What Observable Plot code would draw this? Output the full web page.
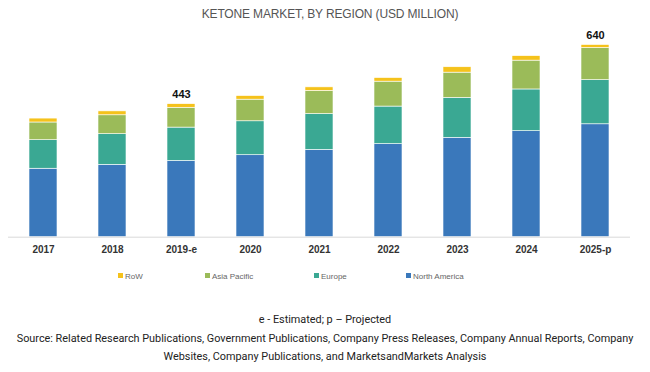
<!DOCTYPE html>
<html>
<head>
<meta charset="utf-8">
<script src="https://cdn.jsdelivr.net/npm/d3@7"></script>
<script src="https://cdn.jsdelivr.net/npm/@observablehq/plot@0.6"></script>
<style>
  html, body { margin: 0; padding: 0; background: #fff; }
  #wrap { position: relative; width: 650px; height: 372px; font-family: "Liberation Sans", Arial, sans-serif; }
  #title { position: absolute; left: 5px; top: 0; width: 650px; height: 28px; line-height: 28px; text-align: center; font-size: 12px; color: #555; letter-spacing: -0.15px; }
  #chart { position: absolute; left: 0; top: 28px; }
  .leg { position: absolute; top: 271px; font-size: 8px; color: #666; line-height: 12px; white-space: nowrap; }
  .leg i { display: inline-block; width: 5px; height: 5px; margin-right: 2px; vertical-align: 1px; }
  .foot { position: absolute; left: 0; width: 650px; text-align: center; font-family: Roboto, sans-serif; font-size: 10.85px; color: #222; white-space: nowrap; }
</style>
</head>
<body>
<div id="wrap">
  <div id="title">KETONE MARKET, BY REGION (USD MILLION)</div>
  <div id="chart"></div>
  <div id="legend"></div>
  <div class="foot" style="top:313px">e - Estimated; p – Projected</div>
  <div class="foot" style="top:332px">Source: Related Research Publications, Government Publications, Company Press Releases, Company Annual Reports, Company</div>
  <div class="foot" style="top:350px">Websites, Company Publications, and MarketsandMarkets Analysis</div>
</div>
<script>
const years = ["2017", "2018", "2019-e", "2020", "2021", "2022", "2023", "2024", "2025-p"];
const regions = ["North America", "Europe", "Asia Pacific", "RoW"];
const colors = ["#3a78bb", "#3aa893", "#9bbb59", "#f5c21b"];
const northAmerica = [228, 241, 254, 273, 291, 310, 331, 353, 376];
const europe       = [95, 102, 111, 113, 119, 125, 133, 139, 147];
const asiaPacific  = [59, 63, 66, 72, 77, 83, 84, 96, 107];
const row          = [13, 13, 12, 12, 12, 12, 18, 15, 10];
const labelledYears = ["2019-e", "2025-p"];

const series = [northAmerica, europe, asiaPacific, row];
const data = [];
years.forEach((y, i) => regions.forEach((r, j) => data.push({year: y, region: r, value: series[j][i]})));
const totals = years.map((y, i) => ({year: y, total: series.reduce((s, a) => s + a[i], 0)}))
  .filter(d => labelledYears.includes(d.year));

const chart = Plot.plot({
  width: 650,
  height: 235,
  marginLeft: 8,
  marginRight: 20,
  marginTop: 0,
  marginBottom: 26.3,
  style: {fontFamily: "'Liberation Sans', Arial, sans-serif", background: "transparent"},
  x: {domain: years, paddingInner: 0.6, paddingOuter: 0.3, label: null, tickSize: 0, tickPadding: 8},
  y: {domain: [0, 695], axis: null},
  color: {domain: regions, range: colors},
  marks: [
    Plot.barY(data, Plot.stackY({x: "year", y: "value", fill: "region", order: regions, stroke: "white", strokeWidth: 0.6})),
    Plot.ruleY([0], {stroke: "#d9d9d9", strokeWidth: 1}),
    Plot.text(totals, {x: "year", y: "total", text: d => String(d.total), dy: -10, fontSize: 11, fontWeight: "bold", fill: "#111"}),
    Plot.axisX({tickSize: 0, tickPadding: 9, fontSize: 10, fontWeight: "bold", color: "#333", label: null})
  ]
});
document.getElementById("chart").appendChild(chart);

const legendPos = [{r: "RoW", x: 118}, {r: "Asia Pacific", x: 205}, {r: "Europe", x: 314}, {r: "North America", x: 406}];
const legend = document.getElementById("legend");
legendPos.forEach(p => {
  const d = document.createElement("div");
  d.className = "leg";
  d.style.left = p.x + "px";
  d.innerHTML = `<i style="background:${colors[regions.indexOf(p.r)]}"></i>${p.r}`;
  legend.appendChild(d);
});
</script>
</body>
</html>
